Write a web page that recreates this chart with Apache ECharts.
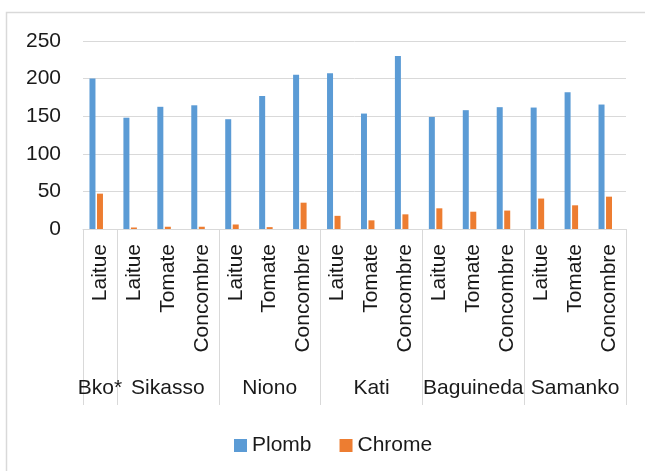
<!DOCTYPE html>
<html>
<head>
<meta charset="utf-8">
<script src="https://cdn.jsdelivr.net/npm/echarts@6/dist/echarts.min.js"></script>
<style>
html,body{margin:0;padding:0;background:#fff;}
#chart{width:645px;height:471px;}
</style>
</head>
<body>
<div id="chart"></div>
<script>
// Data
const groups = ['Bko*', 'Sikasso', 'Niono', 'Kati', 'Baguineda', 'Samanko'];
const groupProducts = [
  ['Laitue'],
  ['Laitue', 'Tomate', 'Concombre'],
  ['Laitue', 'Tomate', 'Concombre'],
  ['Laitue', 'Tomate', 'Concombre'],
  ['Laitue', 'Tomate', 'Concombre'],
  ['Laitue', 'Tomate', 'Concombre']
];
const plomb = [200, 148, 162.5, 164.5, 146, 177, 205, 207, 153.5, 230, 149, 158, 162, 161.5, 182, 165.5];
const chrome = [47, 2, 3, 3, 6, 2.5, 35, 17.5, 11.5, 19.5, 27.5, 23, 24.5, 40.5, 31.5, 43];
const seriesNames = ['Plomb', 'Chrome'];
const yTicks = [0, 50, 100, 150, 200, 250];

// Build flat categories
const categories = [];
const groupOfCat = [];
const boundaries = [];
const midIndex = {};
groupProducts.forEach((prods, g) => {
  boundaries.push(categories.length);
  midIndex[categories.length + Math.floor((prods.length - 1) / 2)] = groups[g];
  prods.forEach(p => { categories.push(p); groupOfCat.push(groups[g]); });
});

const FONT = 'Liberation Sans';
const TXT = '#1a1a1a';
const GRAY = '#d9d9d9';

const chart = echarts.init(document.getElementById('chart'));
chart.setOption({
  animation: false,
  textStyle: { fontFamily: FONT },
  graphic: [{
    type: 'rect',
    shape: { x: 6.5, y: 12.5, width: 700, height: 500 },
    style: { fill: 'none', stroke: GRAY, lineWidth: 1.5 },
    silent: true, z: -10
  }],
  grid: { left: 83, right: 19, top: 41, bottom: 242, containLabel: false },
  legend: {
    data: seriesNames,
    left: 229, top: 430,
    itemWidth: 13, itemHeight: 13, itemGap: 28,
    icon: 'rect',
    textStyle: { fontSize: 21, color: TXT, fontFamily: FONT }
  },
  xAxis: [{
    type: 'category',
    data: categories,
    axisLine: { show: true, lineStyle: { color: GRAY, width: 1 } },
    axisTick: {
      show: true, length: 176,
      interval: (i) => boundaries.indexOf(i) >= 0,
      lineStyle: { color: GRAY, width: 1 }
    },
    axisLabel: { interval: 0, rotate: 90, margin: 15, fontSize: 21, color: TXT, fontFamily: FONT },
    splitLine: { show: false }
  }, {
    type: 'category',
    position: 'bottom',
    offset: 141,
    data: groupOfCat,
    axisLine: { show: false },
    axisTick: { show: false },
    axisLabel: {
      interval: 0, margin: 8, fontSize: 21, color: TXT, fontFamily: FONT,
      formatter: (v, i) => midIndex[i] !== undefined ? midIndex[i] : ''
    },
    splitLine: { show: false }
  }],
  yAxis: {
    type: 'value', min: 0, max: 250, interval: 50,
    axisLine: { show: false }, axisTick: { show: false },
    axisLabel: { margin: 22, fontSize: 21, color: TXT, fontFamily: FONT,
      formatter: v => yTicks.indexOf(v) >= 0 ? String(v) : '' },
    splitLine: { lineStyle: { color: GRAY, width: 1 } }
  },
  series: [{
    name: seriesNames[0], type: 'bar', data: plomb,
    barWidth: 6, barGap: '25%',
    itemStyle: { color: '#5B9BD5' }
  }, {
    name: seriesNames[1], type: 'bar', data: chrome,
    barWidth: 6, barGap: '25%',
    itemStyle: { color: '#ED7D31' }
  }, {
    name: '', type: 'bar', data: [],
    barWidth: 6, barGap: '25%'
  }]
});
</script>
</body>
</html>
